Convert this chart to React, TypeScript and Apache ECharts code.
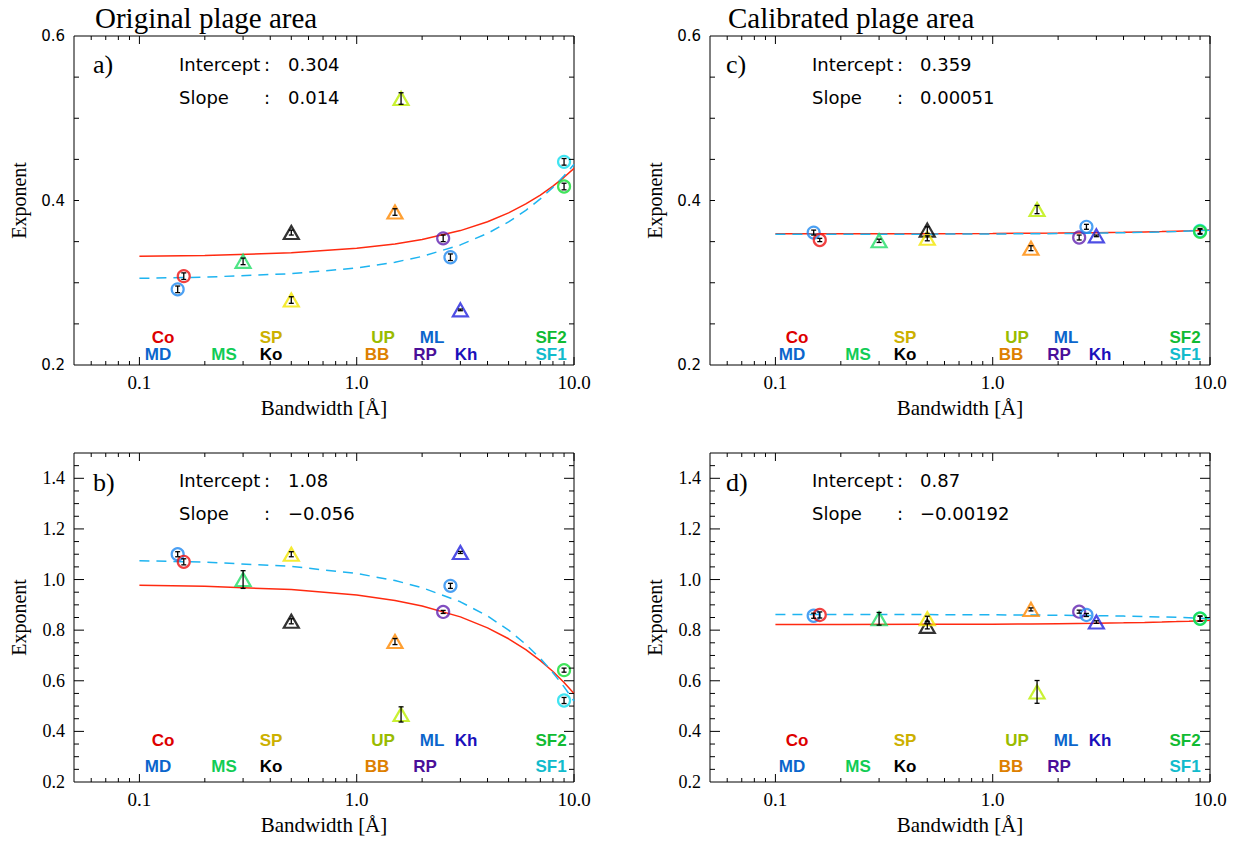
import { useEffect, useRef } from "react";
import * as echarts from "echarts";

// ---------- data ----------
const names = ["MD", "Co", "MS", "Ko", "SP", "BB", "UP", "RP", "ML", "Kh", "SF1", "SF2"];
const bandwidth = [0.15, 0.16, 0.3, 0.5, 0.5, 1.5, 1.6, 2.5, 2.7, 3.0, 9.0, 9.0];
const shapes = ["circle", "circle", "triangle", "triangle", "triangle", "triangle", "triangle", "circle", "circle", "triangle", "circle", "circle"];
const markerColors = ["#1e88f0", "#ee1111", "#22dd66", "#000000", "#f2e600", "#ff8800", "#bbee00", "#6020b0", "#1e88f0", "#2222dd", "#11ddee", "#11dd33"];
const labelColors = ["#0b66cc", "#dd0000", "#11cc55", "#000000", "#ccb000", "#dd8000", "#99bb00", "#4a0f99", "#0b66cc", "#1a10bb", "#11bbcc", "#11bb33"];

// a) original, top
const expA = [0.292, 0.308, 0.326, 0.361, 0.279, 0.386, 0.524, 0.354, 0.331, 0.267, 0.447, 0.417];
const errA = [0.004, 0.004, 0.004, 0.003, 0.004, 0.004, 0.007, 0.004, 0.004, 0.001, 0.004, 0.004];
// b) original, bottom
const expB = [1.1, 1.07, 1.0, 0.835, 1.1, 0.755, 0.467, 0.872, 0.975, 1.107, 0.522, 0.642];
const errB = [0.01, 0.012, 0.035, 0.01, 0.01, 0.012, 0.03, 0.006, 0.01, 0.004, 0.012, 0.008];
// c) calibrated, top
const expC = [0.361, 0.352, 0.351, 0.364, 0.354, 0.342, 0.389, 0.355, 0.368, 0.357, 0.363, 0.362];
const errC = [0.003, 0.002, 0.002, 0.004, 0.003, 0.003, 0.005, 0.003, 0.003, 0.001, 0.003, 0.003];
// d) calibrated, bottom
const expD = [0.857, 0.86, 0.845, 0.815, 0.845, 0.882, 0.556, 0.873, 0.86, 0.832, 0.846, 0.845];
const errD = [0.01, 0.012, 0.025, 0.01, 0.01, 0.006, 0.045, 0.006, 0.006, 0.005, 0.01, 0.01];

// fitted curves
const fitX = [0.1, 0.2, 0.5, 1, 1.5, 2, 3, 4, 5, 6, 7, 8, 9, 10];
const fitARed = [0.3321, 0.3332, 0.3364, 0.3418, 0.3472, 0.3526, 0.3634, 0.3742, 0.385, 0.3958, 0.4066, 0.4174, 0.4282, 0.439];
const fitADash = [0.3054, 0.3068, 0.311, 0.318, 0.325, 0.332, 0.346, 0.36, 0.374, 0.388, 0.402, 0.416, 0.43, 0.444];
const fitBRed = [0.9777, 0.9734, 0.9604, 0.9388, 0.9172, 0.8956, 0.8524, 0.8092, 0.766, 0.7228, 0.6796, 0.6364, 0.5932, 0.55];
const fitBDash = [1.0744, 1.0688, 1.052, 1.024, 0.996, 0.968, 0.912, 0.856, 0.8, 0.744, 0.688, 0.632, 0.576, 0.52];
const fitCRed = [0.3595, 0.3596, 0.3597, 0.36, 0.3602, 0.3604, 0.3609, 0.3613, 0.3618, 0.3622, 0.3627, 0.3631, 0.3636, 0.364];
const fitCDash = [0.3589, 0.3589, 0.3591, 0.3593, 0.3596, 0.3598, 0.3603, 0.3608, 0.3614, 0.3619, 0.3624, 0.3629, 0.3634, 0.3639];
const fitDRed = [0.8222, 0.8223, 0.8229, 0.8237, 0.8246, 0.8254, 0.8271, 0.8288, 0.8305, 0.8322, 0.8339, 0.8356, 0.8373, 0.839];
const fitDDash = [0.862, 0.8619, 0.8614, 0.8605, 0.8597, 0.8589, 0.8572, 0.8555, 0.8539, 0.8522, 0.8505, 0.8488, 0.8472, 0.8455];

const intercepts = ["0.304", "1.08", "0.359", "0.87"];
const slopes = ["0.014", "\u22120.056", "0.00051", "\u22120.00192"];
const letters = ["a)", "b)", "c)", "d)"];
const titles = ["Original plage area", "Calibrated plage area"];

const xMajorTicks = [0.1, 1, 10];
const xMinorTicks = [0.06, 0.07, 0.08, 0.09, 0.2, 0.3, 0.4, 0.5, 0.6, 0.7, 0.8, 0.9, 2, 3, 4, 5, 6, 7, 8, 9];

// ---------- layout ----------
const W = 500;
const H = 329;
const panels = [
  { left: 74, top: 36, ymin: 0.2, ymax: 0.6, tall: false, exp: expA, err: errA, red: fitARed, dash: fitADash, side: 0 },
  { left: 74, top: 453, ymin: 0.2, ymax: 1.5, tall: true, exp: expB, err: errB, red: fitBRed, dash: fitBDash, side: 0 },
  { left: 710, top: 36, ymin: 0.2, ymax: 0.6, tall: false, exp: expC, err: errC, red: fitCRed, dash: fitCDash, side: 1 },
  { left: 710, top: 453, ymin: 0.2, ymax: 1.5, tall: true, exp: expD, err: errD, red: fitDRed, dash: fitDDash, side: 1 },
];
// label centre offsets from the grid's left edge, and rows
const labelDX = [84, 89, 150, 197, 197, 303, 309, 351, 358, 392, 477, 477];
const labelRowTop = [1, 0, 1, 1, 0, 1, 0, 1, 0, 1, 1, 0];
const labelRowBottom = [1, 0, 1, 1, 0, 1, 0, 1, 0, 0, 1, 0];

const SERIF = "'Liberation Serif', 'Times New Roman', serif";
const SANS = "'DejaVu Sans', 'Noto Sans', sans-serif";
const LABEL = "'Liberation Sans', Arial, sans-serif";

function xLabel(v: number) {
  const l = Math.log10(v);
  if (Math.abs(l - Math.round(l)) > 1e-6) return "";
  const p = Math.round(l);
  if (p === -1) return "0.1";
  if (p === 0) return "1.0";
  if (p === 1) return "10.0";
  return "";
}
function yLabel(v: number) {
  const c = Math.round(v * 100);
  if (Math.abs(v * 100 - c) > 1e-4) return "";
  if (c % 20 !== 0) return "";
  return (c / 100).toFixed(1);
}

export default function App() {
  const ref = useRef<HTMLDivElement>(null);
  useEffect(() => {
    if (!ref.current) return;
    const chart = echarts.init(ref.current, undefined, { renderer: "svg" });

    const grids: any[] = [];
    const xAxes: any[] = [];
    const yAxes: any[] = [];
    const series: any[] = [];

    panels.forEach((p, i) => {
      grids.push({
        left: p.left, top: p.top, width: W, height: H,
        show: true, borderColor: "#000", borderWidth: 1, backgroundColor: "rgba(0,0,0,0)",
      });
      xAxes.push({
        type: "log", logBase: 10, min: 0.05, max: 10, gridIndex: i,
        axisLine: { show: false }, axisTick: { show: false }, splitLine: { show: false },
        axisLabel: { formatter: xLabel, fontFamily: SERIF, fontSize: 19, color: "#000", margin: 8, showMinLabel: true, showMaxLabel: true },
        name: "Bandwidth [\u00c5]", nameLocation: "middle", nameGap: 32,
        nameTextStyle: { fontFamily: SERIF, fontSize: 21, color: "#000" },
      });
      yAxes.push({
        type: "value", min: p.ymin, max: p.ymax, interval: 0.05, gridIndex: i,
        axisLine: { show: false }, axisTick: { show: false }, splitLine: { show: false },
        axisLabel: {
          formatter: yLabel, color: "#000", margin: 9,
          fontFamily: p.tall ? SERIF : SANS, fontSize: p.tall ? 18 : 15,
        },
        name: "Exponent", nameLocation: "middle", nameGap: 45, nameRotate: 90,
        nameTextStyle: { fontFamily: SERIF, fontSize: 20, color: "#000" },
      });
      series.push({
        type: "line", xAxisIndex: i, yAxisIndex: i, silent: true, z: 2,
        showSymbol: false, symbol: "none",
        data: fitX.map((x, k) => [x, p.red[k]]),
        lineStyle: { color: "#ff2a10", width: 1.5 },
      });
      series.push({
        type: "line", xAxisIndex: i, yAxisIndex: i, silent: true, z: 2,
        showSymbol: false, symbol: "none",
        data: fitX.map((x, k) => [x, p.dash[k]]),
        lineStyle: { color: "#1eb4f0", width: 1.5, type: [10, 7] },
      });
      series.push({
        type: "scatter", xAxisIndex: i, yAxisIndex: i, silent: true, z: 3,
        data: names.map((n, j) => ({
          name: n,
          value: [bandwidth[j], p.exp[j]],
          symbol: shapes[j],
          symbolSize: shapes[j] === "circle" ? 12 : [15, 13],
          itemStyle: { color: "rgba(255,255,255,0)", borderColor: markerColors[j], borderWidth: 2.2 },
        })),
      });
      series.push({
        type: "custom", xAxisIndex: i, yAxisIndex: i, silent: true, z: 4,
        data: names.map((n, j) => [bandwidth[j], p.exp[j], p.err[j]]),
        renderItem: (params: any, api: any) => {
          const x = api.value(0);
          const y = api.value(1);
          const e = api.value(2);
          const pt = api.coord([x, y + e]);
          const pb = api.coord([x, y - e]);
          const hw = 2.5;
          const st = { stroke: "#000", lineWidth: 1.3 };
          return {
            type: "group",
            children: [
              { type: "line", shape: { x1: pt[0], y1: pt[1], x2: pb[0], y2: pb[1] }, style: st },
              { type: "line", shape: { x1: pt[0] - hw, y1: pt[1], x2: pt[0] + hw, y2: pt[1] }, style: st },
              { type: "line", shape: { x1: pb[0] - hw, y1: pb[1], x2: pb[0] + hw, y2: pb[1] }, style: st },
            ],
          };
        },
      });
    });

    chart.setOption({
      animation: false,
      backgroundColor: "#ffffff",
      grid: grids,
      xAxis: xAxes,
      yAxis: yAxes,
      series,
    });

    // ticks (on all four sides) and annotation texts
    const g: any[] = [];
    const tick = (x1: number, y1: number, x2: number, y2: number) =>
      g.push({ type: "line", silent: true, z: 10, shape: { x1, y1, x2, y2 }, style: { stroke: "#000", lineWidth: 1 } });

    panels.forEach((p, i) => {
      const bottom = p.top + H;
      const right = p.left + W;
      xMajorTicks.forEach((v) => {
        const px = chart.convertToPixel({ xAxisIndex: i }, v) as number;
        tick(px, bottom, px, bottom - 8);
        tick(px, p.top, px, p.top + 8);
      });
      xMinorTicks.forEach((v) => {
        const px = chart.convertToPixel({ xAxisIndex: i }, v) as number;
        tick(px, bottom, px, bottom - 4);
        tick(px, p.top, px, p.top + 4);
      });
      const n = Math.round((p.ymax - p.ymin) / 0.05);
      for (let k = 1; k < n; k++) {
        const v = p.ymin + k * 0.05;
        const py = chart.convertToPixel({ yAxisIndex: i }, v) as number;
        const major = p.tall && Math.round(v * 100) % 20 === 0;
        const len = p.tall ? (major ? 10 : 5) : 5;
        tick(p.left, py, p.left + len, py);
        tick(right, py, right - len, py);
      }

      const dxs = p.side === 0 ? { letter: 19, word: 105, colon: 190, val: 214, lab: 0 } : { letter: 16, word: 102, colon: 187, val: 210, lab: -2 };
      const dy = p.tall ? { letter: 29, inter: 27, slope: 60 } : { letter: 28, inter: 28, slope: 61 };
      g.push({ type: "text", silent: true, x: p.left + dxs.letter, y: p.top + dy.letter,
        style: { text: letters[i], font: `26px ${SERIF}`, fill: "#000", align: "left", verticalAlign: "middle" } });
      const txt = (x: number, y: number, s: string) =>
        g.push({ type: "text", silent: true, x, y, style: { text: s, font: `18px ${SANS}`, fill: "#000", align: "left", verticalAlign: "middle" } });
      txt(p.left + dxs.word, p.top + dy.inter, "Intercept");
      txt(p.left + dxs.colon, p.top + dy.inter, ":");
      txt(p.left + dxs.val, p.top + dy.inter, intercepts[i]);
      txt(p.left + dxs.word, p.top + dy.slope, "Slope");
      txt(p.left + dxs.colon, p.top + dy.slope, ":");
      txt(p.left + dxs.val, p.top + dy.slope, slopes[i]);

      const rows = p.tall ? [bottom - 42, bottom - 16] : [bottom - 28, bottom - 11];
      names.forEach((nm, j) => {
        const row = p.tall ? labelRowBottom[j] : labelRowTop[j];
        g.push({ type: "text", silent: true, x: p.left + labelDX[j] + dxs.lab, y: rows[row],
          style: { text: nm, font: `bold 17px ${LABEL}`, fill: labelColors[j], align: "center", verticalAlign: "middle" } });
      });
    });
    g.push({ type: "text", silent: true, x: 95, y: 18, style: { text: titles[0], font: `29px ${SERIF}`, fill: "#000", align: "left", verticalAlign: "middle" } });
    g.push({ type: "text", silent: true, x: 728, y: 18, style: { text: titles[1], font: `29px ${SERIF}`, fill: "#000", align: "left", verticalAlign: "middle" } });

    chart.setOption({ graphic: g });

    return () => chart.dispose();
  }, []);

  return (
    <div
      ref={ref}
      style={{ position: "fixed", left: 0, top: 0, width: 1242, height: 841, background: "#fff" }}
    />
  );
}
